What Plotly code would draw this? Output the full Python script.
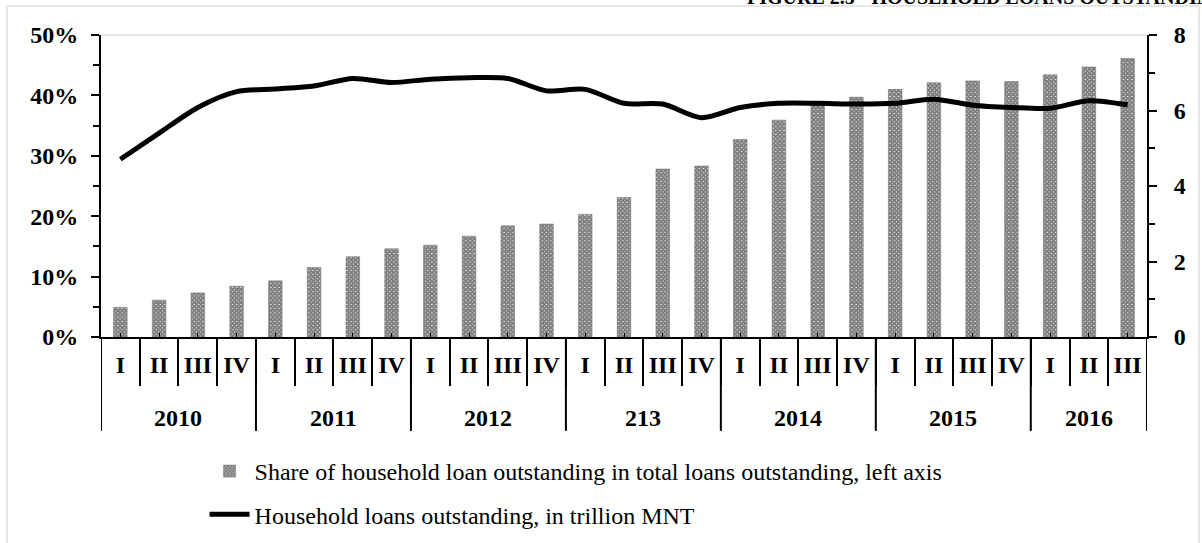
import plotly.graph_objects as go

# Quarterly data, 2010 Q1 – 2016 Q3
year_labels = ["2010", "2011", "2012", "213", "2014", "2015", "2016"]
quarters_per_year = [4, 4, 4, 4, 4, 4, 3]
quarters = ["I", "II", "III", "IV"] * 6 + ["I", "II", "III"]

# Share of household loans in total loans outstanding (fraction)
share = [0.049, 0.061, 0.073, 0.084, 0.093, 0.115, 0.133, 0.146,
         0.152, 0.167, 0.184, 0.187, 0.203, 0.231, 0.278, 0.283,
         0.327, 0.359, 0.388, 0.397, 0.410, 0.421, 0.424, 0.423,
         0.434, 0.447, 0.461]

# Household loans outstanding, trillion MNT
loans = [4.71, 5.40, 6.08, 6.50, 6.57, 6.65, 6.85, 6.74,
         6.83, 6.87, 6.85, 6.52, 6.56, 6.19, 6.17, 5.81,
         6.08, 6.19, 6.19, 6.17, 6.19, 6.30, 6.14, 6.08,
         6.06, 6.26, 6.15]

SERIF = "Liberation Serif, Times New Roman, serif"
idx = list(range(len(quarters)))

fig = go.Figure()

fig.add_trace(go.Bar(
    x=idx, y=share, yaxis="y",
    name="Share of household loan outstanding in total loans outstanding, left axis",
    legendgroup="a",
    marker=dict(color="white",
                line=dict(color="#7a7a7a", width=0.6),
                pattern=dict(shape="x", size=3, solidity=0.9,
                             fgcolor="black", bgcolor="white")),
))

fig.add_trace(go.Scatter(
    x=idx, y=loans, yaxis="y2", mode="lines",
    name="Household loans outstanding, in trillion MNT",
    legendgroup="b",
    line=dict(color="black", width=5, shape="spline", smoothing=0.8),
))

tick_font = dict(family=SERIF, size=24, color="black", weight="bold")
n = len(quarters)

fig.update_layout(
    width=1202, height=543,
    margin=dict(l=101, r=55, t=35, b=206, autoexpand=False),
    paper_bgcolor="white", plot_bgcolor="white",
    font=dict(family=SERIF, color="black"),
    bargap=0.65,
    showlegend=True,
    legend=dict(orientation="v", x=0.099, xanchor="left",
                yref="container", y=0.1731, yanchor="top",
                font=dict(family=SERIF, size=24, color="black"),
                tracegroupgap=9, itemwidth=40, bgcolor="rgba(0,0,0,0)"),
    xaxis=dict(
        range=[-0.5, n - 0.5],
        tickvals=idx, ticktext=quarters,
        showline=True, linecolor="black", linewidth=2,
        ticks="inside", ticklen=4, tickcolor="black", tickwidth=1,
        minor=dict(tick0=-0.5, dtick=1, ticks="outside", ticklen=47,
                   tickcolor="black", tickwidth=2),
        tickfont=tick_font, showgrid=False, zeroline=False,
        ticklabelstandoff=5, automargin=False,
    ),
    yaxis=dict(
        range=[0, 0.5], dtick=0.1, tickformat=".0%",
        showline=True, linecolor="black", linewidth=2,
        ticks="outside", ticklen=8, tickcolor="black", tickwidth=2,
        minor=dict(dtick=0.05, ticks="outside", ticklen=6, tickcolor="black", tickwidth=2),
        tickfont=tick_font, showgrid=False, zeroline=False,
        ticklabelstandoff=8, automargin=False,
    ),
    yaxis2=dict(
        range=[0, 8], dtick=2, overlaying="y", side="right",
        showline=True, linecolor="black", linewidth=2,
        ticks="outside", ticklen=8, tickcolor="black", tickwidth=2,
        minor=dict(dtick=1, ticks="outside", ticklen=6, tickcolor="black", tickwidth=2),
        tickfont=tick_font, showgrid=False, zeroline=False,
        ticklabelstandoff=12, automargin=False,
    ),
)

# Year group labels and the long dividers between years
start = 0
fig.add_shape(type="line", xref="x", yref="paper", x0=-0.5, x1=-0.5, y0=0, y1=-0.311,
              line=dict(color="black", width=2))
for label, count in zip(year_labels, quarters_per_year):
    end = start + count
    fig.add_shape(type="line", xref="x", yref="paper",
                  x0=end - 0.5, x1=end - 0.5, y0=0, y1=-0.311,
                  line=dict(color="black", width=2))
    fig.add_annotation(text=label, xref="x", yref="paper",
                       x=(start + end - 1) / 2, y=-0.268,
                       xanchor="center", yanchor="middle", showarrow=False,
                       font=tick_font)
    start = end

# Outer frame and top border of the plotting area
fig.add_shape(type="rect", xref="paper", yref="paper",
              x0=-0.0899, x1=1.0497, y0=-0.75, y1=1.096,
              line=dict(color="#e6e6e6", width=2), fillcolor="rgba(0,0,0,0)", layer="below")
fig.add_shape(type="line", xref="paper", yref="paper",
              x0=0, x1=1, y0=1, y1=1,
              line=dict(color="#e8e8e8", width=2), layer="below")

# Figure heading (runs off the top edge)
fig.add_annotation(
    text="FIGURE 2.5 - HOUSEHOLD LOANS OUTSTANDING",
    xref="paper", yref="paper", x=0.6157, y=1.083,
    xanchor="left", yanchor="bottom", showarrow=False,
    font=dict(family=SERIF, size=20, color="black", weight="bold"),
)

fig.write_html("out.html")
